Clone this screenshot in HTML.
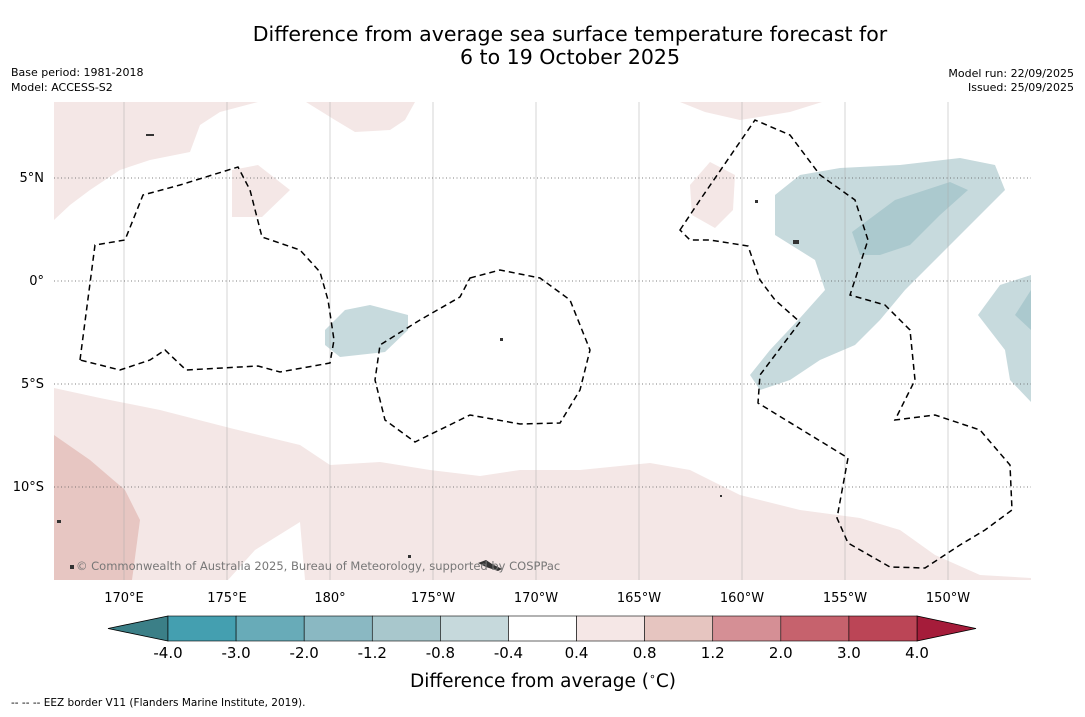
<!DOCTYPE html>
<html><head><meta charset="utf-8">
<style>
html,body{margin:0;padding:0;background:#fff;}
body{width:1085px;height:713px;overflow:hidden;font-family:"DejaVu Sans",sans-serif;}
</style></head>
<body>
<svg id="chart" width="1085" height="713" viewBox="0 0 1085 713" xmlns="http://www.w3.org/2000/svg" font-family="DejaVu Sans, sans-serif">
<text x="570" y="41" text-anchor="middle" font-size="20.5">Difference from average sea surface temperature forecast for</text>
<text x="570" y="64" text-anchor="middle" font-size="20.5">6 to 19 October 2025</text>
<text x="11" y="76" font-size="11">Base period: 1981-2018</text>
<text x="11" y="91" font-size="11">Model: ACCESS-S2</text>
<text x="1074" y="77" font-size="11" text-anchor="end">Model run: 22/09/2025</text>
<text x="1074" y="91" font-size="11" text-anchor="end">Issued: 25/09/2025</text>

<g>
<defs><clipPath id="mc"><rect x="54" y="102" width="977" height="478"/></clipPath></defs>
<g clip-path="url(#mc)">
<rect x="54" y="102" width="977" height="478" fill="#fff"/>
<g fill="#f4e7e6">
<path d="M54,220 L70,205 90,190 120,170 150,160 190,152 200,125 220,112 258,102 L54,102Z"/>
<path d="M232,170 L258,165 290,190 262,217 232,217Z"/>
<path d="M306,102 L415,102 405,120 390,130 355,132 335,120Z"/>
<path d="M680,102 L822,102 790,112 740,120 705,112Z"/>
<path d="M690,185 L710,162 735,175 733,210 715,228 692,215Z"/>
<path d="M54,388 L100,398 160,410 230,428 300,445 330,465 380,462 430,470 480,476 520,470 580,470 650,463 690,470 740,495 800,510 860,518 900,530 935,555 980,575 1031,578 L1031,580 L305,580 300,522 255,550 228,580 L54,580Z"/>
</g>
<path fill="#e7c6c2" d="M54,435 L90,460 125,490 140,520 132,580 L54,580Z"/>
<g fill="#c7dadd">
<path d="M325,330 L345,310 370,305 408,315 408,330 385,352 340,357 325,345Z"/>
<path d="M750,375 L770,350 800,318 825,290 815,260 775,235 775,195 800,175 840,168 900,165 960,158 995,165 1005,190 985,210 960,235 935,260 905,290 880,320 855,345 820,360 790,380 760,390Z"/>
<path d="M1031,275 L1000,285 978,315 1005,350 1010,380 1031,402Z"/>
</g>
<g fill="#abc9ce">
<path d="M852,232 L895,200 950,182 968,190 940,215 910,245 880,255 860,255Z"/>
<path d="M1031,290 L1015,315 1031,330Z"/>
</g>
<g id="grid"></g>
<g fill="none" stroke="#000" stroke-width="1.5" stroke-dasharray="6,4">
<path d="M80,360 L95,245 125,240 143,195 180,185 238,167 250,190 262,237 300,250 320,272 328,300 334,340 330,363 280,372 258,366 186,370 165,350 150,360 120,370Z"/>
<path d="M470,278 L500,270 540,278 570,300 590,350 580,390 560,423 520,424 470,415 415,442 385,420 375,380 380,345 420,320 460,297Z"/>
<path d="M680,230 L700,200 755,120 790,135 820,175 855,200 868,240 850,295 885,305 910,330 915,380 895,420 935,415 980,430 1010,465 1012,510 985,530 960,545 925,568 890,567 848,543 837,518 848,458 758,403 760,375 800,322 775,300 760,280 748,246 710,240 690,240Z"/>
</g>
<g fill="#333">
<path d="M478,563 l8,-3 6,4 10,5 -4,2 -12,-4z"/>
<rect x="146" y="134" width="8" height="2"/><rect x="793" y="240" width="6" height="4"/>
<rect x="755" y="200" width="3" height="3"/><rect x="57" y="520" width="4" height="3"/>
<rect x="70" y="565" width="4" height="4"/><rect x="408" y="555" width="3" height="3"/>
<rect x="500" y="338" width="3" height="3"/><rect x="720" y="495" width="2" height="2"/>
</g>
<text x="76" y="570" font-size="11.5" fill="#777">© Commonwealth of Australia 2025, Bureau of Meteorology, supported by COSPPac</text>
</g>
<g id="axes"></g>
</g>

<g id="colorbar"></g>
<text x="543" y="687" text-anchor="middle" font-size="18.5">Difference from average (<tspan font-size="11" dy="-7">∘</tspan><tspan dy="7">C)</tspan></text>
<text x="11" y="706" font-size="10.5">--  --  -- EEZ border V11 (Flanders Marine Institute, 2019).</text>
</svg>
<script>
const lonTicks = [170,175,180,185,190,195,200,205,210];
const lonLabels = ["170°E","175°E","180°","175°W","170°W","165°W","160°W","155°W","150°W"];
const latTicks = [5,0,-5,-10];
const latLabels = ["5°N","0°","5°S","10°S"];
const cbTicks = ["-4.0","-3.0","-2.0","-1.2","-0.8","-0.4","0.4","0.8","1.2","2.0","3.0","4.0"];
const cbColors = ["#449fb0","#68abb8","#8ab8c2","#a8c7cc","#c6d9dc","#ffffff","#f5e7e6","#e6c5c0","#d58f95","#c6626d","#bb4556"];
const cbLow = "#3b7f87", cbHigh = "#a51c3a";
const NS="http://www.w3.org/2000/svg";
function X(lon){return 124+(lon-170)*20.6;}
function Y(lat){return 281-lat*20.6;}
function mk(t,a,p){const e=document.createElementNS(NS,t);for(const k in a)e.setAttribute(k,a[k]);p.appendChild(e);return e;}
const grid=document.getElementById('grid'), axes=document.getElementById('axes');
lonTicks.forEach((l,i)=>{
  const ln=mk('line',{x1:X(l),x2:X(l),y1:102,y2:580,stroke:'#aaa','stroke-width':0.5},grid);
  
  
  const t=mk('text',{x:X(l),y:602,'text-anchor':'middle','font-size':13},axes);
  t.textContent=lonLabels[i];
  
  
});
latTicks.forEach((l,i)=>{
  const ln=mk('line',{x1:54,x2:1031,y1:Y(l),y2:Y(l),stroke:'#555','stroke-width':0.7,'stroke-dasharray':'1,2.5'},grid);
  
  
  const t=mk('text',{x:44,y:Y(l)+4,'text-anchor':'end','font-size':13},axes);
  t.textContent=latLabels[i];
  
  
});
const cb=document.getElementById('colorbar');
const x0=168,x1=917,y0=616,h=25,w=(x1-x0)/cbColors.length;
const lt=mk('polygon',{points:`${x0},${y0} ${x0},${y0+h} 108,${y0+h/2}`,fill:cbLow,stroke:'#000','stroke-width':0.8},cb);


const rt=mk('polygon',{points:`${x1},${y0} ${x1},${y0+h} 976,${y0+h/2}`,fill:cbHigh,stroke:'#000','stroke-width':0.8},cb);


cbColors.forEach((c,i)=>{
  const r=mk('rect',{x:x0+i*w,y:y0,width:w,height:h,fill:c,stroke:'#000','stroke-width':0.6},cb);
  
  
});
cbTicks.forEach((s,i)=>{
  const t=mk('text',{x:x0+i*w,y:658,'text-anchor':'middle','font-size':15},cb);
  t.textContent=s;
  
  
});
</script>
</body></html>
